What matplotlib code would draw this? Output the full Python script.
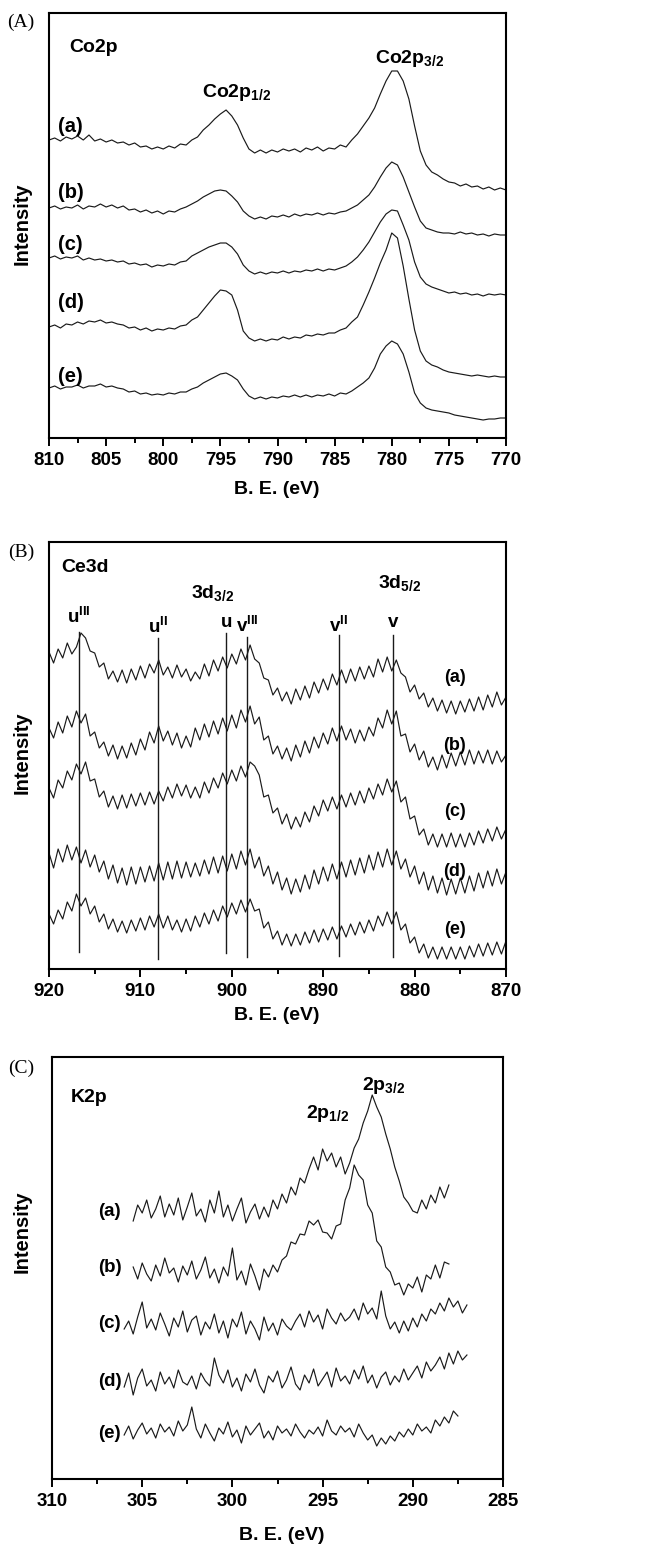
import matplotlib
matplotlib.use('Agg')
import matplotlib.pyplot as plt
from matplotlib.ticker import MultipleLocator

plt.rcParams['font.family'] = ['Liberation Sans', 'DejaVu Sans']
plt.rcParams['font.weight'] = 'bold'
plt.rcParams['mathtext.fontset'] = 'custom'
plt.rcParams['mathtext.rm'] = 'Liberation Sans:bold'
plt.rcParams['mathtext.bf'] = 'Liberation Sans:bold'
plt.rcParams['mathtext.it'] = 'Liberation Sans:bold'

# ---------------- Data ----------------
labels = ['(a)', '(b)', '(c)', '(d)', '(e)']

# Panel A: Co2p, binding energy grid 810 -> 770 eV (0.5 eV steps)
E_co = [810 - 0.5 * i for i in range(81)]
co_a = [298, 300, 297, 301, 299, 302, 298, 303, 297, 299,
        296, 298, 295, 296, 293, 295, 291, 292, 289, 291,
        289, 292, 290, 294, 293, 298, 301, 308, 313, 319,
        324, 328, 322, 313, 300, 289, 285, 288, 285, 288,
        286, 289, 287, 289, 286, 290, 288, 291, 287, 290,
        289, 293, 291, 298, 304, 312, 320, 330, 344, 357,
        367, 367, 357, 339, 312, 287, 273, 266, 263, 259,
        256, 255, 252, 254, 251, 252, 249, 251, 248, 250,
        248]
co_b = [230, 232, 229, 231, 230, 233, 229, 232, 231, 234,
        231, 233, 230, 232, 228, 229, 226, 228, 225, 227,
        224, 227, 226, 229, 231, 234, 237, 241, 244, 247,
        248, 247, 242, 236, 227, 222, 219, 221, 219, 222,
        221, 223, 221, 224, 222, 224, 223, 225, 223, 225,
        224, 226, 227, 230, 233, 238, 243, 251, 261, 270,
        276, 273, 261, 246, 231, 217, 210, 208, 206, 205,
        205, 204, 206, 204, 205, 203, 204, 202, 204, 203,
        203]
co_c = [180, 182, 179, 181, 180, 182, 178, 180, 178, 179,
        177, 178, 176, 177, 174, 175, 173, 174, 171, 173,
        172, 174, 173, 176, 177, 182, 185, 188, 191, 193,
        195, 195, 191, 184, 173, 167, 164, 166, 164, 166,
        165, 167, 165, 167, 166, 168, 167, 169, 167, 169,
        168, 170, 172, 176, 181, 188, 196, 206, 216, 224,
        228, 227, 213, 198, 176, 161, 154, 151, 149, 147,
        145, 146, 144, 145, 143, 144, 142, 144, 143, 144,
        143]
co_d = [111, 113, 110, 114, 113, 116, 114, 117, 116, 118,
        115, 116, 114, 113, 110, 111, 108, 110, 107, 109,
        108, 110, 109, 112, 113, 118, 121, 128, 135, 142,
        148, 147, 143, 128, 107, 100, 97, 99, 97, 99,
        98, 101, 99, 101, 100, 103, 102, 104, 103, 105,
        105, 108, 110, 116, 121, 133, 146, 160, 175, 188,
        205, 200, 172, 139, 108, 87, 77, 73, 71, 68,
        66, 65, 64, 63, 62, 63, 62, 61, 62, 61,
        61]
co_e = [50, 52, 49, 51, 51, 53, 50, 52, 52, 54,
        51, 52, 50, 49, 46, 47, 44, 45, 43, 44,
        43, 45, 44, 46, 46, 49, 51, 55, 58, 61,
        64, 65, 62, 58, 49, 42, 39, 41, 39, 41,
        40, 42, 41, 43, 41, 43, 41, 43, 42, 44,
        42, 45, 44, 47, 51, 55, 60, 70, 84, 92,
        97, 94, 84, 66, 45, 35, 30, 28, 27, 26,
        25, 23, 22, 21, 20, 19, 18, 19, 19, 20,
        20]

# Panel B: Ce3d, grid 920 -> 870 eV (0.5 eV steps)
E_ce = [920 - 0.5 * i for i in range(101)]
ce_a = [317, 306, 320, 311, 326, 315, 322, 336, 331, 318,
        316, 302, 306, 290, 298, 287, 299, 286, 300, 289,
        303, 291, 305, 296, 309, 294, 302, 291, 304, 292,
        300, 288, 297, 290, 305, 293, 309, 298, 312, 301,
        315, 305, 320, 309, 324, 310, 306, 291, 289, 274,
        281, 268, 277, 265, 280, 269, 283, 271, 287, 276,
        290, 279, 295, 284, 299, 286, 300, 288, 302, 290,
        303, 292, 310, 297, 312, 298, 309, 296, 292, 277,
        284, 270, 276, 262, 271, 258, 269, 256, 268, 255,
        268, 257, 270, 258, 272, 259, 274, 262, 277, 264,
        272]
ce_b = [241, 231, 247, 236, 253, 242, 258, 246, 255, 233,
        237, 221, 227, 213, 224, 210, 223, 211, 226, 214,
        230, 219, 237, 226, 243, 228, 238, 224, 236, 221,
        233, 222, 241, 229, 245, 232, 248, 235, 251, 238,
        254, 241, 259, 247, 263, 245, 252, 229, 233, 215,
        223, 210, 221, 208, 224, 212, 228, 216, 232, 221,
        236, 225, 241, 228, 243, 229, 240, 226, 239, 228,
        242, 233, 251, 241, 259, 245, 258, 233, 235, 217,
        225, 209, 218, 202, 212, 199, 214, 201, 216, 203,
        217, 204, 219, 205, 218, 206, 219, 205, 218, 207,
        214]
ce_c = [181, 171, 189, 181, 198, 189, 205, 195, 207, 188,
        190, 172, 178, 162, 173, 160, 174, 161, 175, 163,
        176, 164, 177, 165, 178, 168, 182, 171, 185, 173,
        184, 171, 182, 171, 187, 176, 191, 181, 196, 185,
        199, 188, 203, 192, 207, 203, 194, 172, 174, 156,
        161, 145, 155, 140, 152, 142, 157, 147, 163, 153,
        169, 158, 172, 160, 174, 162, 176, 164, 178, 166,
        181, 170, 185, 174, 190, 177, 188, 167, 172, 150,
        153, 134, 140, 124, 135, 122, 135, 122, 136, 122,
        135, 122, 136, 124, 138, 126, 140, 128, 142, 130,
        140]
ce_d = [116, 101, 120, 107, 124, 109, 122, 106, 119, 102,
        114, 97, 108, 90, 104, 86, 101, 84, 102, 85,
        102, 87, 103, 88, 106, 89, 107, 90, 108, 91,
        107, 92, 106, 93, 109, 95, 112, 96, 113, 98,
        115, 100, 118, 104, 120, 101, 112, 93, 103, 85,
        97, 79, 91, 75, 90, 77, 94, 80, 99, 85,
        102, 88, 105, 90, 107, 92, 109, 94, 111, 96,
        114, 99, 117, 102, 120, 104, 118, 100, 110, 92,
        103, 85, 97, 79, 93, 76, 91, 74, 90, 75,
        91, 76, 93, 78, 96, 81, 98, 83, 100, 85,
        97]
ce_e = [55, 45, 59, 50, 67, 58, 75, 63, 71, 55,
        63, 47, 55, 40, 50, 37, 48, 36, 49, 38,
        51, 39, 53, 42, 55, 41, 53, 39, 49, 37,
        50, 38, 53, 42, 56, 45, 59, 48, 63, 52,
        66, 55, 69, 57, 70, 58, 60, 41, 47, 30,
        38, 24, 35, 23, 35, 24, 37, 26, 39, 27,
        40, 29, 42, 30, 43, 32, 45, 34, 47, 36,
        49, 38, 53, 43, 57, 45, 57, 39, 45, 26,
        32, 16, 25, 11, 22, 10, 22, 10, 22, 10,
        22, 10, 23, 12, 25, 13, 26, 14, 27, 15,
        28]
ce_peaks = [916.7, 908.1, 900.6, 898.3, 888.3, 882.4]
ce_peak_names = [r'u$^{\mathrm{III}}$', r'u$^{\mathrm{II}}$', 'u',
                 r'v$^{\mathrm{III}}$', r'v$^{\mathrm{II}}$', 'v']

# Panel C: K2p (0.25 eV steps)
E_k_ab = [305.5 - 0.25 * i for i in range(71)]
E_k_cd = [306.0 - 0.25 * i for i in range(77)]
E_k_e = [306.0 - 0.25 * i for i in range(75)]
k_a = [258, 274, 266, 279, 261, 270, 283, 262, 275, 264,
       281, 259, 272, 286, 263, 270, 257, 279, 266, 288,
       262, 274, 258, 270, 281, 256, 267, 275, 260, 272,
       262, 279, 270, 285, 276, 292, 284, 301, 296, 310,
       322, 309, 330, 318, 326, 312, 322, 305, 316, 331,
       340, 356, 368, 384, 372, 362, 345, 330, 312, 298,
       282, 276, 268, 266, 279, 270, 284, 276, 292, 281,
       294]
k_b = [212, 200, 216, 205, 198, 214, 203, 221, 206, 211,
       197, 213, 204, 218, 200, 209, 222, 201, 210, 196,
       212, 203, 231, 199, 208, 194, 215, 203, 189, 210,
       202, 214, 207, 219, 223, 237, 235, 245, 244, 258,
       254, 259, 247, 246, 240, 253, 255, 279, 291, 314,
       304, 299, 274, 266, 238, 232, 212, 207, 194, 196,
       184, 195, 191, 202, 187, 204, 200, 214, 201, 217,
       215]
k_c = [150, 158, 145, 162, 177, 151, 160, 149, 166, 155,
       143, 161, 152, 168, 147, 159, 163, 144, 157, 150,
       165, 146, 158, 141, 160, 152, 167, 145, 158, 150,
       139, 162, 148, 156, 144, 160, 153, 149, 158, 165,
       152, 168, 157, 164, 150, 170, 161, 155, 166, 158,
       162, 170, 159, 176, 165, 171, 160, 188, 163, 150,
       157, 146, 158, 148, 161, 152, 165, 158, 170, 165,
       176, 168, 181, 172, 178, 166, 174]
k_d = [92, 106, 84, 101, 110, 93, 99, 88, 107, 95,
       102, 91, 109, 97, 94, 103, 90, 106, 98, 93,
       121, 104, 96, 109, 92, 101, 88, 105, 97, 110,
       94, 86, 103, 97, 108, 91, 99, 112, 95, 89,
       104, 96, 110, 93, 100, 107, 92, 111, 98, 103,
       95, 109, 100, 113, 96, 104, 91, 102, 107, 94,
       103, 97, 110, 99, 106, 113, 101, 117, 108, 114,
       122, 110, 126, 115, 128, 119, 124]
k_e = [44, 53, 40, 49, 56, 45, 51, 41, 55, 47,
       52, 43, 58, 48, 54, 72, 50, 41, 55, 46,
       38, 51, 45, 57, 42, 49, 36, 53, 44, 50,
       56, 41, 48, 39, 53, 46, 50, 43, 55, 47,
       41, 49, 45, 52, 43, 59, 48, 44, 53, 47,
       51, 42, 55, 46, 39, 44, 33, 41, 35, 43,
       38, 47, 42, 50, 44, 55, 48, 52, 46, 59,
       53, 62, 56, 68, 63]

# ---------------- Figure ----------------
W, H = 657, 1547
fig = plt.figure(figsize=(W / 100, H / 100), dpi=100)


def add_ax(l, t, r, b):
    return fig.add_axes([l / W, 1 - b / H, (r - l) / W, (b - t) / H])


def style(ax, xlim, ylim, major, minor):
    ax.set_xlim(*xlim)
    ax.set_ylim(*ylim)
    ax.xaxis.set_major_locator(MultipleLocator(major))
    ax.xaxis.set_minor_locator(MultipleLocator(minor))
    ax.set_yticks([])
    for s in ax.spines.values():
        s.set_linewidth(1.5)
    ax.tick_params(axis='x', which='major', direction='out', length=6,
                   width=1.4, labelsize=13.5, pad=4)
    ax.tick_params(axis='x', which='minor', direction='out', length=3.5,
                   width=1.4)
    for lab in ax.get_xticklabels():
        lab.set_fontweight('bold')


def ftext(x, y, s, **kw):
    fig.text(x / W, 1 - y / H, s, **kw)


lc = '#1a1a1a'
lw = 0.85

# Panel A
axA = add_ax(49, 13, 506, 438)
for ys in [co_a, co_b, co_c, co_d, co_e]:
    axA.plot(E_co, ys, color=lc, lw=lw)
style(axA, (810, 770), (0, 425), 5, 2.5)
for lab, yc in zip(labels, [311, 245, 193, 135, 62]):
    axA.text(809.2, yc, lab, fontsize=14.5, fontweight='bold', ha='left', va='center')
axA.text(808.2, 386, 'Co2p', fontsize=14, fontweight='bold', ha='left', va='baseline')
axA.text(796.6, 341, r'Co2p$_{1/2}$', fontsize=14, fontweight='bold', ha='left', va='baseline')
axA.text(781.5, 375, r'Co2p$_{3/2}$', fontsize=14, fontweight='bold', ha='left', va='baseline')

# Panel B
axB = add_ax(49, 542, 506, 969)
for ys in [ce_a, ce_b, ce_c, ce_d, ce_e]:
    axB.plot(E_ce, ys, color=lc, lw=lw)
line_top = [337, 331, 336, 332, 334, 334]
line_bot = [17, 10, 16, 12, 13, 12]
lab_base = [346, 336, 342, 337, 337, 342]
for e, t, b, name, yb in zip(ce_peaks, line_top, line_bot, ce_peak_names, lab_base):
    axB.plot([e, e], [b, t], color=lc, lw=1.0)
    axB.text(e, yb, name, fontsize=13.5, fontweight='bold', ha='center', va='baseline')
style(axB, (920, 870), (0, 427), 10, 5)
for lab, yc in zip(labels, [292, 223, 157, 98, 40]):
    axB.text(875.6, yc, lab, fontsize=13, fontweight='bold', ha='center', va='center')
axB.text(918.7, 397, 'Ce3d', fontsize=14, fontweight='bold', ha='left', va='baseline')
axB.text(904.5, 371, r'3d$_{3/2}$', fontsize=14, fontweight='bold', ha='left', va='baseline')
axB.text(884.0, 381, r'3d$_{5/2}$', fontsize=14, fontweight='bold', ha='left', va='baseline')

# Panel C
axC = add_ax(52, 1057, 503, 1479)
axC.plot(E_k_ab, k_a, color=lc, lw=lw)
axC.plot(E_k_ab, k_b, color=lc, lw=lw)
axC.plot(E_k_cd, k_c, color=lc, lw=lw)
axC.plot(E_k_cd, k_d, color=lc, lw=lw)
axC.plot(E_k_e, k_e, color=lc, lw=lw)
style(axC, (310, 285), (0, 422), 5, 2.5)
for lab, yc in zip(labels, [267, 211, 155, 98, 45]):
    axC.text(307.46, yc, lab, fontsize=13.5, fontweight='bold', ha='left', va='center')
axC.text(308.96, 377, 'K2p', fontsize=14, fontweight='bold', ha='left', va='baseline')
axC.text(295.9, 361, r'2p$_{1/2}$', fontsize=14, fontweight='bold', ha='left', va='baseline')
axC.text(292.8, 389, r'2p$_{3/2}$', fontsize=14, fontweight='bold', ha='left', va='baseline')

# Figure-level texts
for s, y in [('(A)', 22), ('(B)', 552), ('(C)', 1068)]:
    ftext(21, y, s, fontsize=14, family='Liberation Serif', fontweight='normal',
          ha='center', va='center')
for y in [224, 753, 1232]:
    ftext(22, y, 'Intensity', fontsize=14.5, fontweight='bold', rotation=90,
          ha='center', va='center')
for x, y in [(277, 490), (277, 1015), (282, 1535)]:
    ftext(x, y, 'B. E. (eV)', fontsize=14, fontweight='bold', ha='center', va='center')

fig.savefig('out.png', dpi=100)
